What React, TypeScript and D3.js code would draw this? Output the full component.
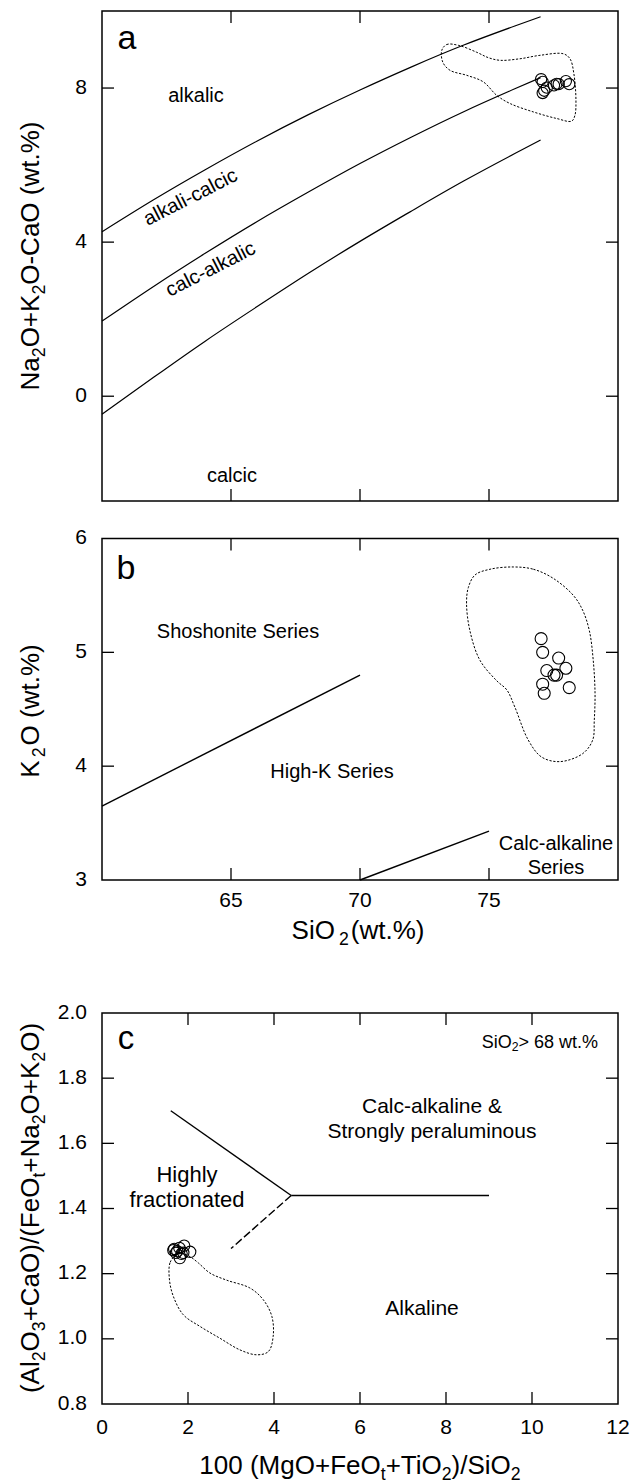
import React from 'react';
import * as d3 from 'd3';

const FONT = '"Liberation Sans", Arial, Helvetica, sans-serif';

// ---------- Panel a : MALI vs SiO2 ----------
const maliBoundaryX = [60, 62, 64, 66, 68, 70, 72, 74, 76, 77];
const alkalicAlkaliCalcic = [4.27, 5.1, 5.88, 6.62, 7.31, 7.95, 8.55, 9.11, 9.61, 9.85];
const alkaliCalcicCalcAlkalic = [1.95, 2.85, 3.71, 4.53, 5.3, 6.04, 6.73, 7.38, 7.98, 8.27];
const calcAlkalicCalcic = [-0.47, 0.49, 1.43, 2.32, 3.19, 4.02, 4.81, 5.58, 6.3, 6.65];

const sampleSiO2 = [77.02, 77.08, 77.7, 77.24, 77.98, 77.52, 77.62, 77.08, 78.11, 77.14];
const sampleMALI = [8.23, 8.16, 8.1, 8.01, 8.18, 8.07, 8.11, 7.87, 8.1, 7.93];
const sampleK2O = [5.12, 5.0, 4.95, 4.84, 4.86, 4.8, 4.8, 4.72, 4.69, 4.64];
const sampleFM = [1.66, 1.72, 1.8, 1.91, 2.05, 1.81, 1.85, 1.75, 1.68, 1.89];
const sampleAC = [1.272, 1.264, 1.279, 1.286, 1.267, 1.248, 1.261, 1.269, 1.276, 1.264];

const fieldA_SiO2 = [73.17, 73.36, 73.81, 74.52, 74.97, 75.43, 76.2, 76.98, 77.88, 78.14, 78.29, 78.37, 78.33, 78.2, 77.62, 76.72, 75.81, 75.3, 74.78, 74.14, 73.49, 73.21];
const fieldA_MALI = [8.98, 9.13, 9.11, 8.93, 8.79, 8.72, 8.76, 8.85, 8.89, 8.76, 8.37, 7.68, 7.29, 7.14, 7.21, 7.38, 7.6, 7.81, 8.16, 8.33, 8.46, 8.67];

// ---------- Panel b : K2O vs SiO2 ----------
const shoshoniteLineX = [60, 70];
const shoshoniteLineY = [3.65, 4.8];
const calcAlkalineLineX = [70, 75];
const calcAlkalineLineY = [3.0, 3.43];

const fieldB_SiO2 = [75.94, 76.72, 77.49, 78.27, 78.63, 78.89, 79.04, 79.11, 79.08, 79.02, 78.63, 77.75, 77.04, 76.52, 76.0, 75.69, 75.3, 74.65, 74.26, 74.13, 74.2, 74.46, 75.04];
const fieldB_K2O = [5.75, 5.73, 5.65, 5.5, 5.37, 5.19, 4.93, 4.64, 4.4, 4.23, 4.11, 4.04, 4.08, 4.23, 4.52, 4.67, 4.75, 4.93, 5.19, 5.43, 5.57, 5.68, 5.73];

// ---------- Panel c ----------
const upperLineX = [1.6, 4.4];
const upperLineY = [1.7, 1.44];
const horizLineX = [4.4, 9.0];
const horizLineY = [1.44, 1.44];
const dashLineX = [4.4, 3.0];
const dashLineY = [1.44, 1.277];

const fieldC_X = [1.7, 1.58, 1.57, 1.66, 1.89, 2.28, 2.74, 3.21, 3.6, 3.87, 3.98, 3.95, 3.75, 3.44, 2.9, 2.51, 2.24, 2.05, 1.85];
const fieldC_Y = [1.255, 1.233, 1.18, 1.13, 1.074, 1.038, 1.002, 0.966, 0.951, 0.961, 1.007, 1.069, 1.12, 1.156, 1.18, 1.202, 1.233, 1.252, 1.262];

// tick values
const ticksA_X = [65, 70, 75];
const ticksA_Y = [0, 4, 8];
const ticksB_X = [65, 70, 75];
const ticksB_Y = [3, 4, 5, 6];
const ticksC_X = [0, 2, 4, 6, 8, 10, 12];
const ticksC_Y = [0.8, 1.0, 1.2, 1.4, 1.6, 1.8, 2.0];

const L = 102, R = 618;
const TICK = 12;

type Part = [string, boolean?, number?];

function Rich({ parts, x, y, size, rotate, anchor = 'middle' }: { parts: Part[]; x: number; y: number; size: number; rotate?: number; anchor?: string }) {
  const sub = size * 0.68;
  const shift = size * 0.3;
  let prevSub = false;
  const spans = parts.map((p, i) => {
    const [t, isSub, dx] = p;
    let dy = 0;
    if (isSub && !prevSub) dy = shift;
    if (!isSub && prevSub) dy = -shift;
    prevSub = !!isSub;
    return (
      <tspan key={i} dy={dy} dx={dx || 0} fontSize={isSub ? sub : size}>
        {t}
      </tspan>
    );
  });
  return (
    <text x={x} y={y} fontSize={size} fontFamily={FONT} textAnchor={anchor} dominantBaseline="middle"
      transform={rotate ? `rotate(${rotate},${x},${y})` : undefined} fill="#000">
      {spans}
    </text>
  );
}

function Frame({ x, y, top, bottom, xt, yt }: any) {
  return (
    <g>
      <rect x={L} y={top} width={R - L} height={bottom - top} fill="none" stroke="#000" strokeWidth={1.5} />
      {xt.map((v: number) => (
        <g key={'x' + v}>
          <line x1={x(v)} x2={x(v)} y1={top} y2={top + TICK} stroke="#000" strokeWidth={1.3} />
          <line x1={x(v)} x2={x(v)} y1={bottom} y2={bottom - TICK} stroke="#000" strokeWidth={1.3} />
        </g>
      ))}
      {yt.map((v: number) => (
        <g key={'y' + v}>
          <line x1={L} x2={L + TICK} y1={y(v)} y2={y(v)} stroke="#000" strokeWidth={1.3} />
          <line x1={R} x2={R - TICK} y1={y(v)} y2={y(v)} stroke="#000" strokeWidth={1.3} />
        </g>
      ))}
    </g>
  );
}

function pathOf(xs: number[], ys: number[], x: any, y: any, curve: any) {
  const pts = xs.map((v, i) => [v, ys[i]] as [number, number]);
  return d3.line<[number, number]>().x((d) => x(d[0])).y((d) => y(d[1])).curve(curve)(pts) || '';
}

export default function App() {
  // panel a
  const xa = d3.scaleLinear().domain([60, 80]).range([L, R]);
  const ya = d3.scaleLinear().domain([-2.72, 10]).range([501, 11]);
  // panel b
  const xb = d3.scaleLinear().domain([60, 80]).range([L, R]);
  const yb = d3.scaleLinear().domain([3, 6]).range([880, 538.5]);
  // panel c
  const xc = d3.scaleLinear().domain([0, 12]).range([L, R]);
  const yc = d3.scaleLinear().domain([0.8, 2.0]).range([1404, 1013]);

  const tickFont = 21;
  const lineStyle = { fill: 'none', stroke: '#000', strokeWidth: 1.2 };
  const fieldStyle = { fill: 'none', stroke: '#000', strokeWidth: 1, strokeDasharray: '2.2,1.6' };

  return (
    <div style={{ position: 'absolute', left: 0, top: 0, width: 644, height: 1484, background: '#fff' }}>
      <svg width={644} height={1484} style={{ display: 'block' }}>
        <rect width={644} height={1484} fill="#fff" />

        {/* ================= Panel a ================= */}
        <Frame x={xa} y={ya} top={11} bottom={501} xt={ticksA_X} yt={ticksA_Y} />
        {[alkalicAlkaliCalcic, alkaliCalcicCalcAlkalic, calcAlkalicCalcic].map((ys, i) => (
          <path key={i} d={pathOf(maliBoundaryX, ys, xa, ya, d3.curveNatural)} {...lineStyle} />
        ))}
        <path d={pathOf(fieldA_SiO2, fieldA_MALI, xa, ya, d3.curveCatmullRomClosed.alpha(0.5))} {...fieldStyle} />
        {sampleSiO2.map((v, i) => (
          <circle key={i} cx={xa(v)} cy={ya(sampleMALI[i])} r={5.6} fill="none" stroke="#000" strokeWidth={1.1} />
        ))}
        {ticksA_Y.map((v) => (
          <text key={v} x={87} y={ya(v)} fontSize={tickFont} fontFamily={FONT} textAnchor="end" dominantBaseline="middle">{v}</text>
        ))}
        <text x={127} y={40} fontSize={34} fontFamily={FONT} textAnchor="middle" dominantBaseline="middle">a</text>
        <text x={196} y={97} fontSize={20} fontFamily={FONT} textAnchor="middle" dominantBaseline="middle">alkalic</text>
        <text x={191} y={198} fontSize={20} fontFamily={FONT} textAnchor="middle" dominantBaseline="middle" transform="rotate(-27,191,198)">alkali-calcic</text>
        <text x={211} y={270} fontSize={20} fontFamily={FONT} textAnchor="middle" dominantBaseline="middle" transform="rotate(-27,211,270)">calc-alkalic</text>
        <text x={232} y={477} fontSize={20} fontFamily={FONT} textAnchor="middle" dominantBaseline="middle">calcic</text>
        <Rich x={32} y={256} size={26} rotate={-90}
          parts={[['Na'], ['2', true], ['O+K'], ['2', true], ['O-CaO (wt.%)']]} />

        {/* ================= Panel b ================= */}
        <Frame x={xb} y={yb} top={538.5} bottom={880} xt={ticksB_X} yt={[4, 5]} />
        <path d={pathOf(shoshoniteLineX, shoshoniteLineY, xb, yb, d3.curveLinear)} {...lineStyle} strokeWidth={1.4} />
        <path d={pathOf(calcAlkalineLineX, calcAlkalineLineY, xb, yb, d3.curveLinear)} {...lineStyle} strokeWidth={1.4} />
        <path d={pathOf(fieldB_SiO2, fieldB_K2O, xb, yb, d3.curveCatmullRomClosed.alpha(0.5))} {...fieldStyle} />
        {sampleSiO2.map((v, i) => (
          <circle key={i} cx={xb(v)} cy={yb(sampleK2O[i])} r={6} fill="none" stroke="#000" strokeWidth={1.1} />
        ))}
        {ticksB_Y.map((v) => (
          <text key={v} x={87} y={yb(v)} fontSize={tickFont} fontFamily={FONT} textAnchor="end" dominantBaseline="middle">{v}</text>
        ))}
        {ticksB_X.map((v) => (
          <text key={v} x={xb(v)} y={901} fontSize={tickFont} fontFamily={FONT} textAnchor="middle" dominantBaseline="middle">{v}</text>
        ))}
        <text x={126} y={570} fontSize={34} fontFamily={FONT} textAnchor="middle" dominantBaseline="middle">b</text>
        <text x={238} y={633} fontSize={20} fontFamily={FONT} textAnchor="middle" dominantBaseline="middle">Shoshonite Series</text>
        <text x={332} y={773} fontSize={20} fontFamily={FONT} textAnchor="middle" dominantBaseline="middle">High-K Series</text>
        <text x={556} y={845} fontSize={20} fontFamily={FONT} textAnchor="middle" dominantBaseline="middle">Calc-alkaline</text>
        <text x={556} y={869} fontSize={20} fontFamily={FONT} textAnchor="middle" dominantBaseline="middle">Series</text>
        <Rich x={32} y={711} size={26} rotate={-90} parts={[['K'], ['2', true, 3], ['O (wt.%)', false, 2]]} />
        <Rich x={358} y={932} size={26} parts={[['SiO'], ['2', true, 4], ['(wt.%)', false, 2]]} />

        {/* ================= Panel c ================= */}
        <Frame x={xc} y={yc} top={1013} bottom={1404} xt={[2, 4, 6, 8, 10]} yt={[1.0, 1.2, 1.4, 1.6, 1.8]} />
        <path d={pathOf(upperLineX, upperLineY, xc, yc, d3.curveLinear)} {...lineStyle} strokeWidth={1.4} />
        <path d={pathOf(horizLineX, horizLineY, xc, yc, d3.curveLinear)} {...lineStyle} strokeWidth={1.4} />
        <path d={pathOf(dashLineX, dashLineY, xc, yc, d3.curveLinear)} {...lineStyle} strokeWidth={1.4} strokeDasharray="8,3" />
        <path d={pathOf(fieldC_X, fieldC_Y, xc, yc, d3.curveCatmullRomClosed.alpha(0.5))} {...fieldStyle} />
        {sampleFM.map((v, i) => (
          <circle key={i} cx={xc(v)} cy={yc(sampleAC[i])} r={5.7} fill="none" stroke="#000" strokeWidth={1.1} />
        ))}
        {ticksC_Y.map((v) => (
          <text key={v} x={87} y={yc(v)} fontSize={tickFont} fontFamily={FONT} textAnchor="end" dominantBaseline="middle">{v.toFixed(1)}</text>
        ))}
        {ticksC_X.map((v) => (
          <text key={v} x={xc(v)} y={1428} fontSize={tickFont} fontFamily={FONT} textAnchor="middle" dominantBaseline="middle">{v}</text>
        ))}
        <text x={126} y={1040} fontSize={33} fontFamily={FONT} textAnchor="middle" dominantBaseline="middle">c</text>
        <Rich x={598} y={1043} size={18} anchor="end" parts={[['SiO'], ['2', true], ['> 68 wt.%']]} />
        <text x={432} y={1107} fontSize={21} fontFamily={FONT} textAnchor="middle" dominantBaseline="middle">Calc-alkaline &amp;</text>
        <text x={432} y={1132} fontSize={21} fontFamily={FONT} textAnchor="middle" dominantBaseline="middle">Strongly peraluminous</text>
        <text x={187} y={1176} fontSize={22} fontFamily={FONT} textAnchor="middle" dominantBaseline="middle">Highly</text>
        <text x={187} y={1201} fontSize={22} fontFamily={FONT} textAnchor="middle" dominantBaseline="middle">fractionated</text>
        <text x={422} y={1309} fontSize={21} fontFamily={FONT} textAnchor="middle" dominantBaseline="middle">Alkaline</text>
        <Rich x={32} y={1208} size={26} rotate={-90}
          parts={[['(Al'], ['2', true], ['O'], ['3', true], ['+CaO)/(FeO'], ['t', true], ['+Na'], ['2', true], ['O+K'], ['2', true], ['O)']]} />
        <Rich x={360} y={1467} size={26}
          parts={[['100 (MgO+FeO'], ['t', true], ['+TiO'], ['2', true], [')/SiO'], ['2', true]]} />
      </svg>
    </div>
  );
}
